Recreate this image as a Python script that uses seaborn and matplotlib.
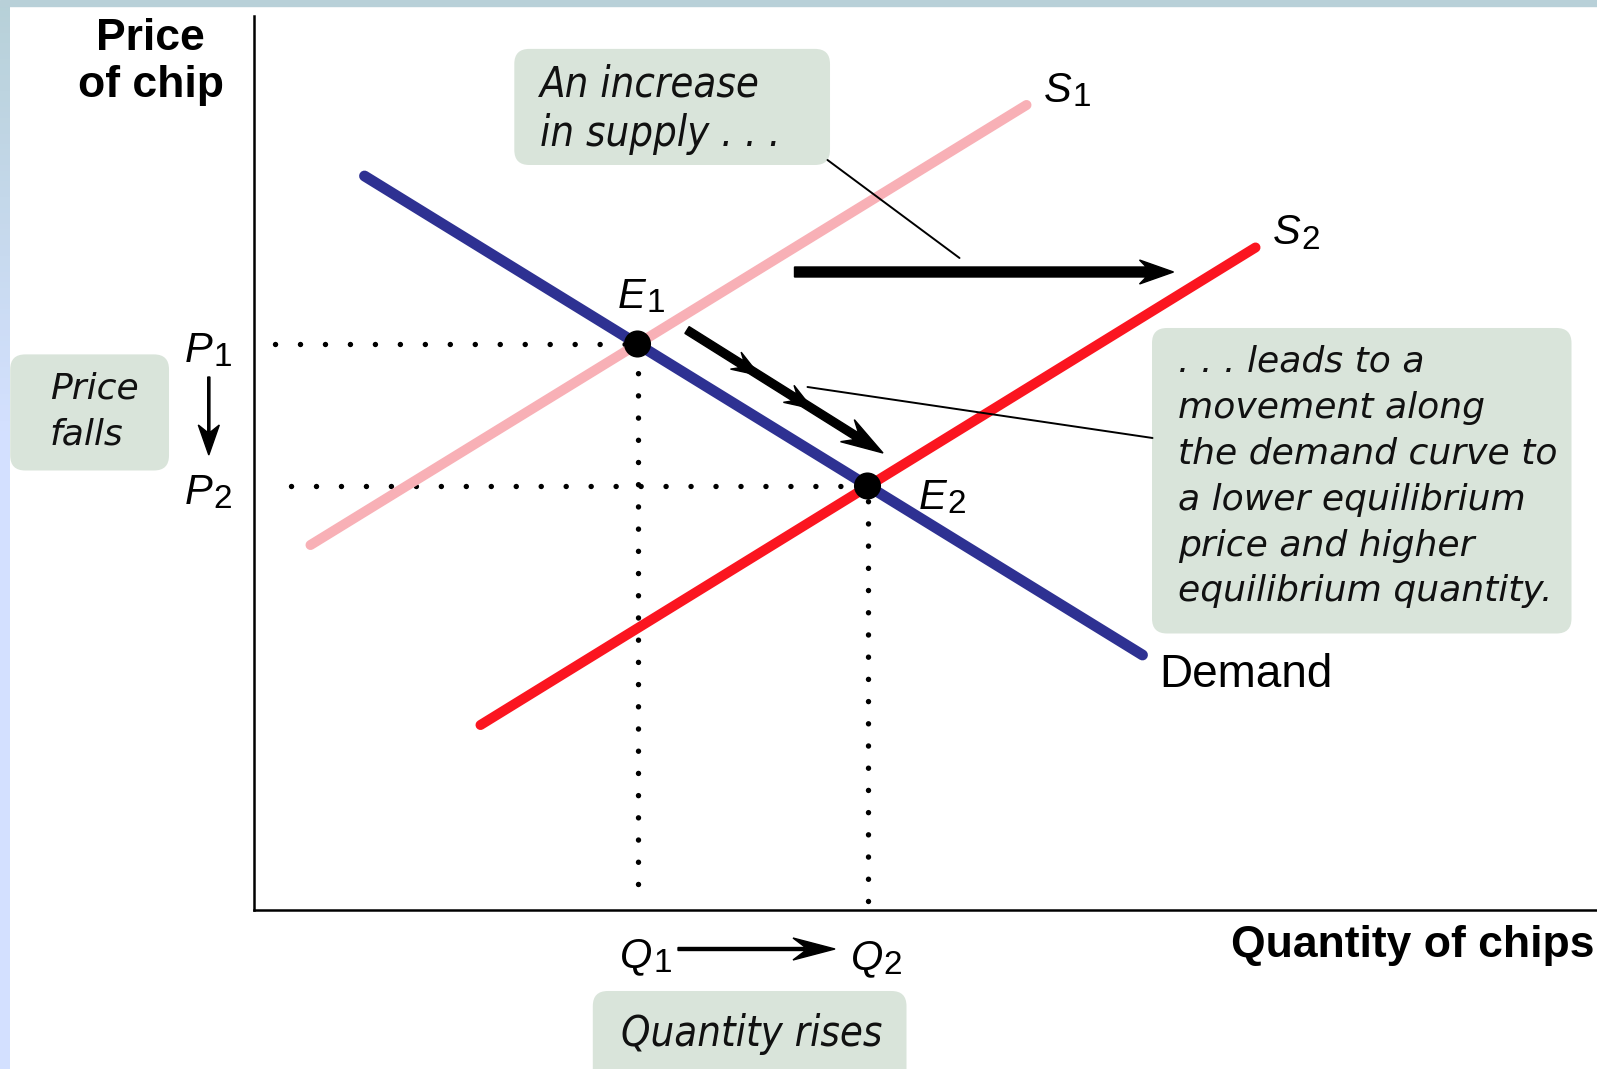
import numpy as np
import pandas as pd
import matplotlib
matplotlib.use("Agg")
import matplotlib.pyplot as plt
import seaborn as sns
from matplotlib.patches import FancyBboxPatch, Rectangle

# curvas (quantidade, preco) em unidades do diagrama, origem no canto dos eixos
demanda_q = [11.1, 88.9]
demanda_p = [73.4, 25.5]
oferta1_q = [5.7, 77.3]
oferta1_p = [36.5, 80.5]
oferta2_q = [22.7, 100.2]
oferta2_p = [18.5, 66.25]

# equilibrios
equil_nome = ["E1", "E2"]
equil_q = [38.4, 61.4]
equil_p = [56.6, 42.4]

# inicio das linhas pontilhadas (p no eixo y, q no eixo x)
guia_q_inicio = [2.15, 3.7]
guia_p_fim = [2.6, 0.9]

# setas
seta_desloc_q = [54.1, 92.0]
seta_desloc_p = 63.8
seta_mov_q = [43.35, 62.95]
seta_mov_p = [58.0, 45.7]
cadeia_t = [(0.0, 0.37), (0.32, 0.64), (0.58, 1.0)]

COR_DEMANDA = "#2e3192"
COR_S1 = "#f8b0b6"
COR_S2 = "#fb1520"
COR_CAIXA = "#d9e4da"

sns.set_theme(style="white")
plt.rcParams["font.family"] = ["Liberation Sans", "DejaVu Sans"]

fig = plt.figure(figsize=(15.97, 10.69), dpi=100)
ax = fig.add_axes([0.15874, 0.14874, 0.84126, 0.83630])
ax.set_xlim(0, 134.35)
ax.set_ylim(0, 89.4)
ax.set_xticks([])
ax.set_yticks([])
for lado in ["top", "right"]:
    ax.spines[lado].set_visible(False)
for lado in ["left", "bottom"]:
    ax.spines[lado].set_color("black")
    ax.spines[lado].set_linewidth(1.8)

# moldura azulada da pagina
fig.patches.append(Rectangle((0, 1 - 6 / 1069), 1, 6 / 1069, transform=fig.transFigure,
                             color="#b8d0d8", zorder=0))
axb = fig.add_axes([0, 0, 10 / 1597, 1 - 6 / 1069])
grad = np.linspace(0, 1, 200).reshape(-1, 1)
cores = np.array([[0.72, 0.82, 0.85], [0.83, 0.88, 1.0]])
img = cores[0] + (cores[1] - cores[0]) * np.clip(grad * 2.5, 0, 1)[:, :, None]
axb.imshow(img.reshape(200, 1, 3), aspect="auto", origin="upper")
axb.set_axis_off()

# guias pontilhadas (comecam na ponta livre, terminam escondidas sob o ponto)
pont_h = dict(color="black", lw=3.9, linestyle=(0, (0.01, 4.6)), dash_capstyle="round", zorder=2)
pont_v = dict(color="black", lw=3.9, linestyle=(0, (0.01, 4.09)), dash_capstyle="round", zorder=2)
for i in range(2):
    ax.plot([guia_q_inicio[i], equil_q[i]], [equil_p[i], equil_p[i]], **pont_h)
    ax.plot([equil_q[i], equil_q[i]], [guia_p_fim[i], equil_p[i]], **pont_v)

# curvas
sns.lineplot(x=oferta1_q, y=oferta1_p, ax=ax, color=COR_S1, linewidth=7.2, zorder=3)
sns.lineplot(x=oferta2_q, y=oferta2_p, ax=ax, color=COR_S2, linewidth=7.2, zorder=3)
sns.lineplot(x=demanda_q, y=demanda_p, ax=ax, color=COR_DEMANDA, linewidth=7.8, zorder=4)
sns.scatterplot(x=equil_q, y=equil_p, ax=ax, color="black", s=380, edgecolor="none", zorder=6)

# seta do deslocamento da oferta
ax.arrow(seta_desloc_q[0], seta_desloc_p, seta_desloc_q[1] - seta_desloc_q[0], 0,
         width=1.0, head_width=2.4, head_length=3.4, overhang=0.2, length_includes_head=True,
         color="black", zorder=5)

# seta do movimento ao longo da demanda (tres pedacos encadeados)
dq = seta_mov_q[1] - seta_mov_q[0]
dp = seta_mov_p[1] - seta_mov_p[0]
for k, (t0, t1) in enumerate(cadeia_t):
    ultimo = k == len(cadeia_t) - 1
    ax.arrow(seta_mov_q[0] + t0 * dq, seta_mov_p[0] + t0 * dp, (t1 - t0) * dq, (t1 - t0) * dp,
             width=0.8, head_width=2.6 if ultimo else 2.0, head_length=4.2 if ultimo else 2.8,
             overhang=0.25, length_includes_head=True, color="black", zorder=5)

# setas pequenas P1 -> P2 e Q1 -> Q2
ax.arrow(-4.47, 53.3, 0, -7.8, width=0.22, head_width=2.1, head_length=3.0, overhang=0.25,
         length_includes_head=True, color="black", clip_on=False, zorder=5)
ax.arrow(42.45, -3.9, 15.7, 0, width=0.3, head_width=2.2, head_length=4.2, overhang=0.3,
         length_includes_head=True, color="black", clip_on=False, zorder=5)

# linhas de chamada
ax.plot([57.4, 70.6], [75.0, 65.2], color="black", lw=1.4, zorder=5)
ax.plot([55.4, 89.9], [52.3, 47.2], color="black", lw=1.4, zorder=5)

# caixas
caixas = [(26.08, 74.5, 31.57, 11.61), (89.85, 27.65, 41.95, 30.55),
          (-24.33, 43.95, 15.88, 11.61), (33.93, -17.5, 31.37, 9.4)]
for (x0, y0, w, h) in caixas:
    ax.add_patch(FancyBboxPatch((x0, y0), w, h, boxstyle="round,pad=0,rounding_size=1.5",
                                facecolor=COR_CAIXA, edgecolor="none", clip_on=False, zorder=1))

italico = dict(family=["DejaVu Sans"], style="oblique", color="#111111")
ax.text(28.65, 80.05, "An increase\nin supply . . .", fontsize=30, fontstretch="condensed",
        va="center", ha="left", linespacing=1.24, zorder=7, **italico)
ax.text(92.45, 43.33, ". . . leads to a\nmovement along\nthe demand curve to\na lower equilibrium\n"
        "price and higher\nequilibrium quantity.", fontsize=26, va="center", ha="left",
        linespacing=1.44, zorder=7, **italico)
ax.text(-20.35, 49.85, "Price\nfalls", fontsize=26, va="center", ha="left",
        linespacing=1.44, zorder=7, **italico)
ax.text(49.82, -12.38, "Quantity rises", fontsize=30, fontstretch="condensed",
        va="center", ha="center", zorder=7, **italico)

# titulos dos eixos
ax.text(-10.28, 84.8, "Price\nof chip", fontsize=32, fontweight="bold", ha="center",
        va="center", linespacing=1.2, color="black")
ax.text(134.1, -3.6, "Quantity of chips", fontsize=32, fontweight="bold", ha="right",
        va="center", color="black")
ax.text(90.55, 23.5, "Demand", fontsize=33, va="center", ha="left", color="black")

# rotulos com indice (letra italica + numero reto um pouco menor)
renderer = fig.canvas.get_renderer()


def rotulo(q, p, letra, num, tam=30):
    t = ax.text(q, p, letra, fontsize=tam, style="italic", va="baseline", ha="left",
                color="black", zorder=7)
    larg = t.get_window_extent(renderer).width * 72 / fig.dpi
    ax.annotate(num, xy=(q, p), xytext=(larg + 0.5, -0.1 * tam),
                textcoords="offset points", fontsize=tam * 0.8, va="baseline", ha="left",
                color="black", annotation_clip=False, zorder=7)


rotulo(79.05, 80.8, "S", "1")
rotulo(101.95, 66.56, "S", "2")
rotulo(36.45, 60.24, "E", "1")
rotulo(66.55, 40.1, "E", "2")
rotulo(-6.85, 54.84, "P", "1")
rotulo(-6.85, 40.6, "P", "2")
rotulo(36.65, -5.76, "Q", "1")
rotulo(59.7, -5.96, "Q", "2")

plt.savefig("out.png", dpi=100)
